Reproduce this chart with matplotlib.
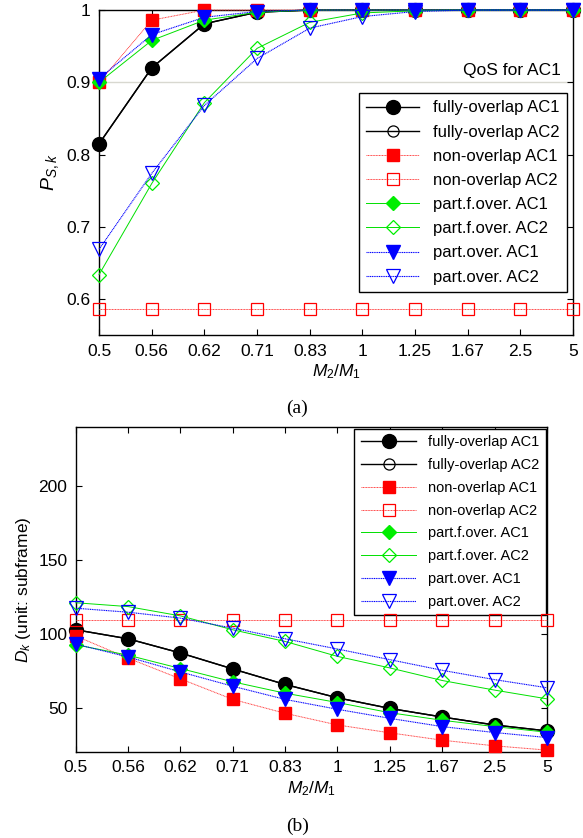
import numpy as np
import matplotlib
matplotlib.use('Agg')
import matplotlib.pyplot as plt

plt.rcParams['font.family'] = ['Liberation Sans', 'DejaVu Sans']
plt.rcParams['mathtext.fontset'] = 'custom'
plt.rcParams['mathtext.rm'] = 'Liberation Sans'
plt.rcParams['mathtext.it'] = 'Liberation Sans:italic'

# x categories (M2/M1)
ratios = ['0.5', '0.56', '0.62', '0.71', '0.83', '1', '1.25', '1.67', '2.5', '5']

# (a) success probability P_S,k
ps_full_ac1 = [0.815, 0.92, 0.981, 0.997, 1.0, 1.0, 1.0, 1.0, 1.0, 1.0]
ps_full_ac2 = [0.815, 0.92, 0.981, 0.997, 1.0, 1.0, 1.0, 1.0, 1.0, 1.0]
ps_non_ac1 = [0.90, 0.986, 1.0, 1.0, 1.0, 1.0, 1.0, 1.0, 1.0, 1.0]
ps_non_ac2 = [0.586, 0.586, 0.586, 0.586, 0.586, 0.586, 0.586, 0.586, 0.586, 0.586]
ps_pf_ac1 = [0.90, 0.958, 0.986, 0.997, 1.0, 1.0, 1.0, 1.0, 1.0, 1.0]
ps_pf_ac2 = [0.634, 0.76, 0.872, 0.947, 0.983, 0.996, 0.999, 1.0, 1.0, 1.0]
ps_po_ac1 = [0.905, 0.966, 0.99, 0.998, 1.0, 1.0, 1.0, 1.0, 1.0, 1.0]
ps_po_ac2 = [0.669, 0.774, 0.868, 0.933, 0.975, 0.991, 0.998, 1.0, 1.0, 1.0]
qos_ac1 = 0.9

# (b) delay D_k
d_full_ac1 = [102.7, 96.6, 87.0, 76.2, 65.7, 56.7, 49.5, 43.7, 38.3, 34.3]
d_full_ac2 = [102.7, 96.6, 87.0, 76.2, 65.7, 56.7, 49.5, 43.7, 38.3, 34.3]
d_non_ac1 = [98.5, 83.5, 69.5, 55.6, 46.2, 38.3, 33.0, 28.0, 24.2, 21.3]
d_non_ac2 = [109, 109, 109, 109, 109, 109, 109, 109, 109, 109]
d_pf_ac1 = [92.6, 85.5, 76.5, 67.5, 59.8, 53.5, 46.6, 41.5, 37.2, 33.4]
d_pf_ac2 = [121, 118.4, 112.1, 102.7, 94.8, 84.7, 76.9, 68.4, 61.9, 56.0]
d_po_ac1 = [93.0, 84.3, 74.2, 64.5, 55.6, 48.9, 42.8, 37.2, 33.2, 29.8]
d_po_ac2 = [117.3, 114.6, 110.6, 103.8, 96.6, 89.7, 82.5, 75.3, 69.0, 63.5]

labels = ['fully-overlap AC1', 'fully-overlap AC2', 'non-overlap AC1', 'non-overlap AC2',
          'part.f.over. AC1', 'part.f.over. AC2', 'part.over. AC1', 'part.over. AC2']

dot = (0, (1, 0.6))
styles = [
    dict(color='black', ls='-', lw=1.0, marker='o', ms=10, mfc='black', mec='black'),
    dict(color='black', ls='-', lw=1.0, marker='o', ms=8, mfc='none', mec='black', mew=0.9),
    dict(color='#ff4040', ls=dot, lw=0.7, marker='s', ms=8.5, mfc='red', mec='red'),
    dict(color='#ff4040', ls=dot, lw=0.7, marker='s', ms=9, mfc='none', mec='red', mew=0.9),
    dict(color='#00e000', ls='-', lw=0.7, marker='D', ms=7.5, mfc='#00ee00', mec='#00ee00'),
    dict(color='#00e000', ls='-', lw=0.7, marker='D', ms=7.5, mfc='none', mec='#00ee00', mew=0.9),
    dict(color='#0000ff', ls=dot, lw=0.8, marker='v', ms=10, mfc='blue', mec='blue'),
    dict(color='#0000ff', ls=dot, lw=0.8, marker='v', ms=10, mfc='none', mec='blue', mew=0.9),
]

x = np.arange(len(ratios))

fig = plt.figure(figsize=(5.83, 8.38), dpi=100)
ax1 = fig.add_axes([0.170, 0.600, 0.813, 0.388])
ax2 = fig.add_axes([0.130, 0.1026, 0.808, 0.388])


def style_axes(ax):
    ax.set_xticks(x)
    ax.set_xticklabels(ratios)
    ax.set_xlim(0, len(ratios) - 1)
    ax.tick_params(direction='in', top=True, right=True, length=4, labelsize=12.5, pad=6)
    for s in ax.spines.values():
        s.set_linewidth(1.0)
    ax.set_xlabel('$M_2/M_1$', fontsize=12.5, labelpad=3)


# (a)
ax1.axhline(qos_ac1, color='#d8d8d0', lw=1.0, zorder=1)
ax1.text(0.975, qos_ac1 + 0.006, 'QoS for AC1', transform=ax1.get_yaxis_transform(),
         ha='right', va='bottom', fontsize=12.5)
series_a = [ps_full_ac1, ps_full_ac2, ps_non_ac1, ps_non_ac2, ps_pf_ac1, ps_pf_ac2, ps_po_ac1, ps_po_ac2]
for i in range(8):
    ax1.plot(x, series_a[i], label=labels[i], clip_on=False, zorder=3 + i, **styles[i])
ax1.set_ylim(0.55, 1.0)
ax1.set_yticks([0.6, 0.7, 0.8, 0.9, 1.0])
ax1.set_yticklabels(['0.6', '0.7', '0.8', '0.9', '1'])
ax1.set_ylabel('$P_{S,k}$', fontsize=14, labelpad=4)
style_axes(ax1)
leg = ax1.legend(loc='upper right', bbox_to_anchor=(0.987, 0.745),
                 borderaxespad=0, fontsize=12, handlelength=3.2, labelspacing=0.55,
                 fancybox=False, framealpha=1, edgecolor='black', borderpad=0.45)
leg.get_frame().set_linewidth(1.0)

# (b)
series_b = [d_full_ac1, d_full_ac2, d_non_ac1, d_non_ac2, d_pf_ac1, d_pf_ac2, d_po_ac1, d_po_ac2]
for i in range(8):
    ax2.plot(x, series_b[i], label=labels[i], clip_on=False, zorder=3 + i, **styles[i])
ax2.set_ylim(20, 240)
ax2.set_yticks([50, 100, 150, 200])
ax2.set_ylabel('$D_k$ (unit: subframe)', fontsize=12.5, labelpad=4)
style_axes(ax2)
leg = ax2.legend(loc='upper right', bbox_to_anchor=(0.998, 0.994),
                 borderaxespad=0, fontsize=10.5, handlelength=3.8, labelspacing=0.6,
                 fancybox=False, framealpha=1, edgecolor='black', borderpad=0.45)
leg.get_frame().set_linewidth(1.0)

fig.text(0.51, 1 - 408 / 838, '(a)', ha='center', va='center', fontsize=14, family='Liberation Serif')
fig.text(0.51, 1 - 826 / 838, '(b)', ha='center', va='center', fontsize=14, family='Liberation Serif')

fig.savefig('out.png', dpi=100)
